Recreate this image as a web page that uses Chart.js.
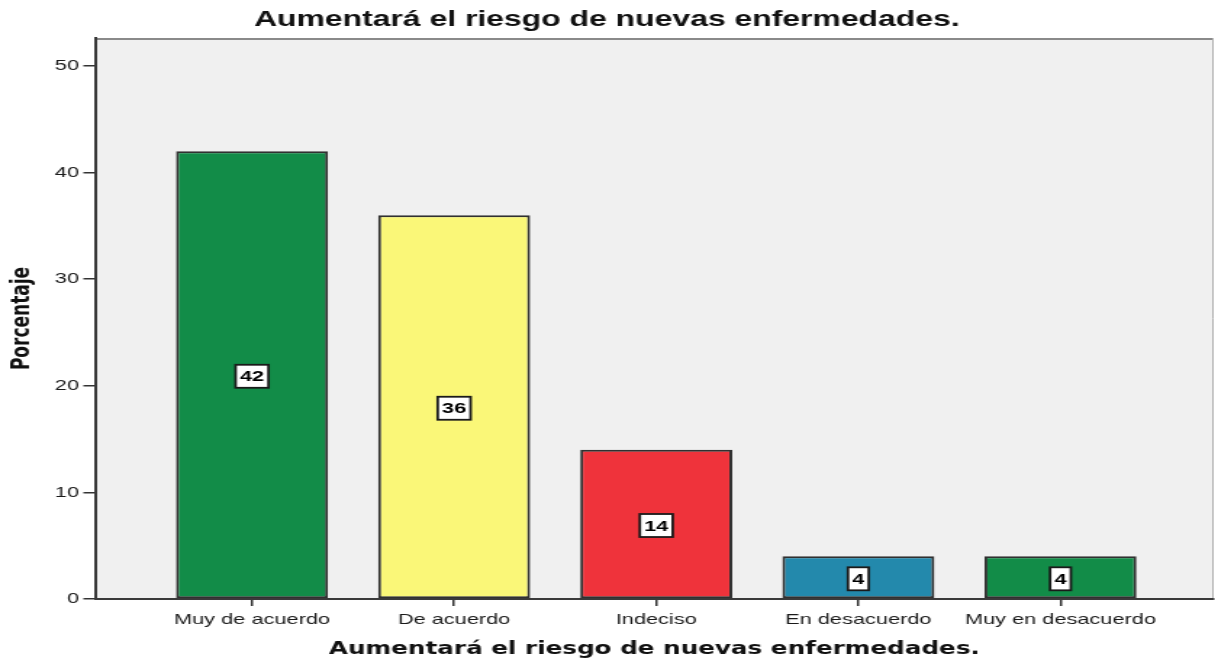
<!DOCTYPE html>
<html>
<head>
<meta charset="utf-8">
<script src="https://cdn.jsdelivr.net/npm/chart.js@4.4.1/dist/chart.umd.min.js"></script>
<style>
  html, body { margin: 0; padding: 0; background: #ffffff; overflow: hidden; }
  #wrap { width: 838px; height: 663px; transform: scaleX(1.45); transform-origin: 0 0; }
  #c { width: 838px; height: 663px; display: block; }
</style>
</head>
<body>
<div id="wrap"><canvas id="c" width="838" height="663"></canvas></div>
<script>
const chartTitle = 'Aumentará el riesgo de nuevas enfermedades.';
const xTitle = 'Aumentará el riesgo de nuevas enfermedades.';
const yTitle = 'Porcentaje';
const categories = ['Muy de acuerdo', 'De acuerdo', 'Indeciso', 'En desacuerdo', 'Muy en desacuerdo'];
const percentages = [42, 36, 14, 4, 4];
const barColors = ['#128C48', '#FAF778', '#EF333B', '#2389AC', '#128C48'];
const yTicks = [0, 10, 20, 30, 40, 50];

const points = categories.map((c, i) => ({ x: i, y: percentages[i] }));

const backgroundPlugin = {
  id: 'bgPlot',
  beforeDraw(chart) {
    const { ctx, chartArea: a } = chart;
    ctx.save();
    ctx.fillStyle = '#ffffff';
    ctx.fillRect(0, 0, chart.width, chart.height);
    ctx.fillStyle = '#F0F0F0';
    ctx.fillRect(a.left, a.top, a.right - a.left, a.bottom - a.top);
    ctx.strokeStyle = '#8a8a8a';
    ctx.lineWidth = 2;
    ctx.beginPath();
    ctx.moveTo(a.left, a.top + 1);
    ctx.lineTo(a.right, a.top + 1);
    ctx.stroke();
    ctx.strokeStyle = '#b0b0b0';
    ctx.lineWidth = 1;
    ctx.beginPath();
    ctx.moveTo(a.right - 0.5, a.top);
    ctx.lineTo(a.right - 0.5, a.bottom);
    ctx.stroke();
    ctx.restore();
  }
};

const labelPlugin = {
  id: 'boxLabels',
  afterDatasetsDraw(chart) {
    const { ctx } = chart;
    const meta = chart.getDatasetMeta(0);
    ctx.save();
    ctx.font = 'bold 15px "Liberation Sans", Arial, sans-serif';
    ctx.textAlign = 'center';
    ctx.textBaseline = 'middle';
    meta.data.forEach((el, i) => {
      const txt = String(percentages[i]);
      const cx = el.x;
      const cy = (el.y + el.base) / 2 + 1.5;
      const w = ctx.measureText(txt).width + 6;
      const h = 23;
      ctx.fillStyle = '#ffffff';
      ctx.fillRect(cx - w / 2, cy - h / 2, w, h);
      ctx.strokeStyle = '#1a1a1a';
      ctx.lineWidth = 1.8;
      ctx.strokeRect(cx - w / 2, cy - h / 2, w, h);
      ctx.fillStyle = '#000000';
      ctx.fillText(txt, cx, cy + 1);
    });
    ctx.restore();
  }
};

new Chart(document.getElementById('c'), {
  type: 'bar',
  data: {
    datasets: [{
      data: points,
      backgroundColor: barColors,
      borderColor: '#303030',
      borderWidth: 2,
      borderSkipped: false,
      categoryPercentage: 0.752,
      barPercentage: 1.0
    }]
  },
  options: {
    responsive: false,
    devicePixelRatio: 1,
    animation: false,
    layout: { padding: { left: 0, right: 1, top: 0, bottom: 0 } },
    plugins: {
      legend: { display: false },
      tooltip: { enabled: false },
      title: {
        display: true,
        text: chartTitle,
        color: '#111111',
        font: { family: '"Liberation Sans", Arial, sans-serif', size: 22, weight: 'bold', lineHeight: 1.2 },
        padding: { top: 7, bottom: 4.6 }
      }
    },
    scales: {
      x: {
        type: 'linear',
        offset: false,
        min: -0.777,
        max: 4.758,
        afterBuildTicks(scale) { scale.ticks = categories.map((c, i) => ({ value: i })); },
        afterFit(scale) { scale.height = 64; },
        ticks: {
          callback: (v) => categories[v] !== undefined ? categories[v] : '',
          color: '#1a1a1a',
          font: { family: '"Liberation Sans", Arial, sans-serif', size: 15 },
          padding: 5,
          maxRotation: 0,
          autoSkip: false
        },
        grid: { offset: false, drawOnChartArea: false, drawTicks: true, tickLength: 7, color: '#333333', lineWidth: 1.5 },
        border: { display: true, color: '#3a3a3a', width: 2 },
        title: {
          display: true,
          text: xTitle,
          color: '#111111',
          font: { family: '"DejaVu Sans", Verdana, sans-serif', size: 17, weight: 'bold', lineHeight: 1.2 },
          padding: { top: 0, bottom: 3 }
        }
      },
      y: {
        min: 0,
        max: 52.63,
        afterBuildTicks(scale) { scale.ticks = yTicks.map(v => ({ value: v })); },
        afterFit(scale) { scale.width = 65.5; },
        ticks: {
          color: '#1a1a1a',
          font: { family: '"Liberation Sans", Arial, sans-serif', size: 15 },
          padding: 3
        },
        grid: { drawOnChartArea: false, drawTicks: true, tickLength: 8, color: '#333333', lineWidth: 1.5 },
        border: { display: true, color: '#3a3a3a', width: 2 },
        title: {
          display: true,
          text: yTitle,
          color: '#111111',
          font: { family: '"DejaVu Sans", Verdana, sans-serif', size: 17, weight: 'bold', lineHeight: 1.2 },
          padding: { top: 5, bottom: 0 }
        }
      }
    }
  },
  plugins: [backgroundPlugin, labelPlugin]
});
</script>
</body>
</html>
